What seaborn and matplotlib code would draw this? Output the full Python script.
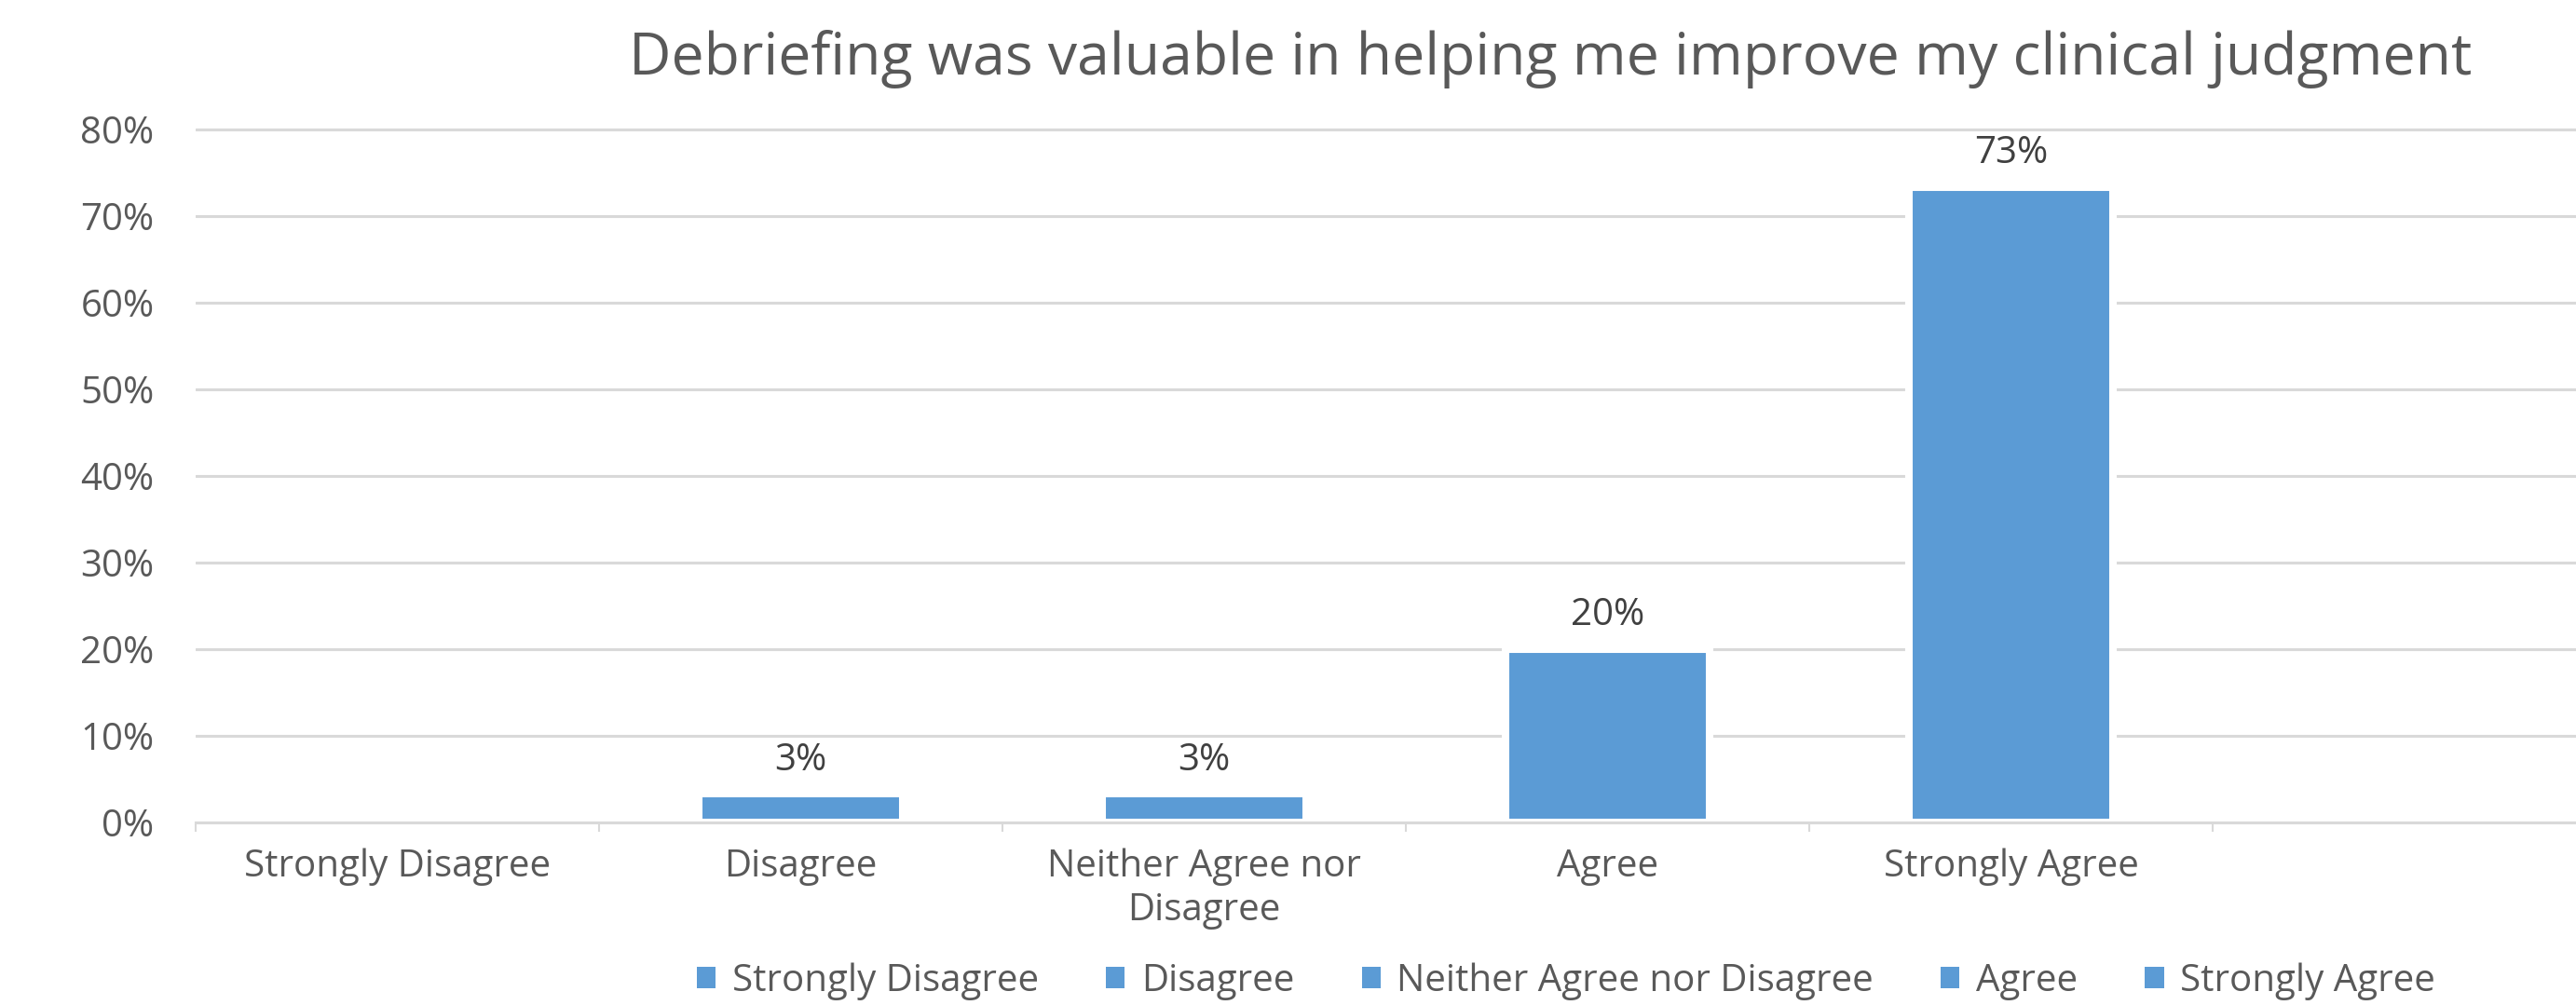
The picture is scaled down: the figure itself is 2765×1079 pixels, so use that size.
import numpy as np
import pandas as pd
import matplotlib
matplotlib.use("Agg")
import matplotlib.pyplot as plt
from matplotlib.patches import Patch
from matplotlib.ticker import FuncFormatter
import seaborn as sns

# survey responses (percent of respondents)
categories = ['Strongly Disagree', 'Disagree', 'Neither Agree nor Disagree', 'Agree', 'Strongly Agree']
tick_labels = ['Strongly Disagree', 'Disagree', 'Neither Agree nor\nDisagree', 'Agree', 'Strongly Agree']
percent = [np.nan, 3.3, 3.3, 20.0, 73.3]
y_ticks = [0, 10, 20, 30, 40, 50, 60, 70, 80]
title = 'Debriefing was valuable in helping me improve my clinical judgment'

blue = '#5B9BD5'
txt = '#595959'
grid_col = '#D9D9D9'

sns.set_theme(style='white')
plt.rcParams['font.family'] = ['Open Sans', 'DejaVu Sans']

df = pd.DataFrame({'response': categories, 'percent': percent})

W, H = 2765, 1079
fig = plt.figure(figsize=(W / 100, H / 100), dpi=100)
ax = fig.add_axes([210 / W, (H - 883) / H, 1 - 210 / W, (883 - 136) / H])

sns.barplot(data=df, x='response', y='percent', order=categories, color=blue,
            saturation=1, width=0.505, edgecolor='white', linewidth=5.8,
            errorbar=None, ax=ax)

# data labels
for p in ax.patches:
    h = p.get_height()
    if np.isfinite(h) and h > 0:
        ax.annotate(f'{h:.0f}%', (p.get_x() + p.get_width() / 2, h),
                    xytext=(0, 18.5), textcoords='offset points',
                    ha='center', va='baseline', fontsize=29, color='#404040')

# y axis
ax.set_ylim(0, 80.3)
ax.set_yticks(y_ticks)
ax.yaxis.set_major_formatter(FuncFormatter(lambda v, _: f'{v:.0f}%'))
ax.tick_params(axis='y', length=0, pad=32, labelsize=29, labelcolor=txt)
ax.yaxis.grid(True, color=grid_col, linewidth=2.2)
ax.set_axisbelow(True)

# x axis: ticks at category boundaries, labels at centres
ax.set_xlim(-0.5, 5.4)
ax.set_xticks(np.arange(-0.5, 5, 1))
ax.set_xticks(np.arange(len(categories)), minor=True)
ax.set_xticklabels(tick_labels, minor=True)
ax.tick_params(axis='x', which='major', length=7.5, width=1.5, color=grid_col,
               labelbottom=False, direction='out')
ax.tick_params(axis='x', which='minor', length=0, pad=20, labelsize=29, labelcolor=txt)
ax.xaxis.set_tick_params(which='both', bottom=True)
ax.set_xlabel('')
ax.set_ylabel('')

for s in ['top', 'right', 'left']:
    ax.spines[s].set_visible(False)
ax.spines['bottom'].set_color(grid_col)
ax.spines['bottom'].set_linewidth(2.2)
ax.spines['bottom'].set_zorder(5)

fig.text(1664 / W, 1 - 80 / H, title, ha='center', va='baseline', fontsize=45, color=txt)

handles = [Patch(facecolor=blue, edgecolor='none', label=c) for c in categories]
fig.legend(handles=handles, loc='center', bbox_to_anchor=(1681 / W, 1 - 1054 / H),
           ncol=5, frameon=False, fontsize=29, labelcolor=txt,
           handlelength=0.5, handleheight=0.5, handletextpad=0.43,
           columnspacing=1.8, borderpad=0, borderaxespad=0)

fig.savefig('out.png', dpi=100)
